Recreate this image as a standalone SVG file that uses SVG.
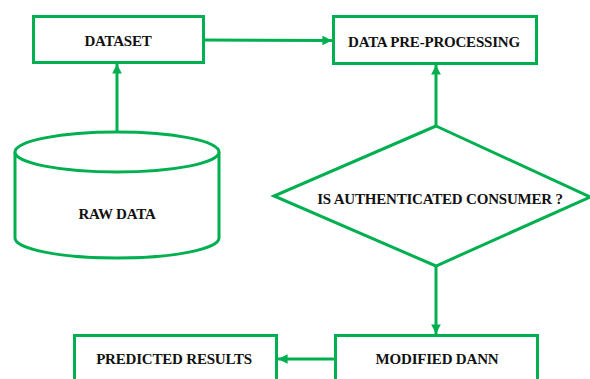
<svg xmlns="http://www.w3.org/2000/svg" width="590" height="379" viewBox="0 0 590 379">
  <style>
    .shape { fill: #ffffff; stroke: #00B050; stroke-width: 3; }
    .edge { fill: none; stroke: #00B050; stroke-width: 3; }
    .label { font-family: 'Liberation Serif', 'Times New Roman', Times, serif; font-weight: 700; font-size: 15px; fill: #111111; text-anchor: middle; letter-spacing: -0.2px; }
  </style>
  <defs>
    <marker id="arrow" viewBox="0 0 10 10" refX="10" refY="5" markerWidth="3.2" markerHeight="3.2" orient="auto" markerUnits="strokeWidth">
      <path d="M0,0 L10,5 L0,10 Z" fill="#00B050"/>
    </marker>
  </defs>
  <rect width="590" height="379" fill="#ffffff"/>

  <g id="connectors">
    <line class="edge" x1="117" y1="132" x2="117" y2="64" marker-end="url(#arrow)"/>
    <line class="edge" x1="204" y1="40" x2="332" y2="40.5" marker-end="url(#arrow)"/>
    <line class="edge" x1="436" y1="126" x2="436" y2="65" marker-end="url(#arrow)"/>
    <line class="edge" x1="436" y1="266" x2="436" y2="334" marker-end="url(#arrow)"/>
    <line class="edge" x1="335" y1="359" x2="278" y2="359" marker-end="url(#arrow)"/>
  </g>

  <g id="dataset">
    <rect class="shape" x="33.5" y="16.5" width="170" height="46"/>
    <text class="label" x="118" y="45.5">DATASET</text>
  </g>

  <g id="preprocessing">
    <rect class="shape" x="333.5" y="16.5" width="203" height="47"/>
    <text class="label" x="434" y="46.5">DATA PRE-PROCESSING</text>
  </g>

  <g id="raw-data">
    <path class="shape" d="M15,152 L15,238 A102,20 0 0 0 219,238 L219,152"/>
    <ellipse class="shape" cx="117" cy="152" rx="102" ry="20"/>
    <text class="label" x="117" y="218.5">RAW DATA</text>
  </g>

  <g id="decision">
    <polygon class="shape" points="436,126 590,197 436,266 274,196"/>
    <text class="label" x="440" y="203.5">IS AUTHENTICATED CONSUMER ?</text>
  </g>

  <g id="modified-dann">
    <rect class="shape" x="335.5" y="335.5" width="202" height="60"/>
    <text class="label" x="437" y="363.5">MODIFIED DANN</text>
  </g>

  <g id="predicted-results">
    <rect class="shape" x="74.5" y="335.5" width="202" height="60"/>
    <text class="label" x="174" y="363.5">PREDICTED RESULTS</text>
  </g>
</svg>
